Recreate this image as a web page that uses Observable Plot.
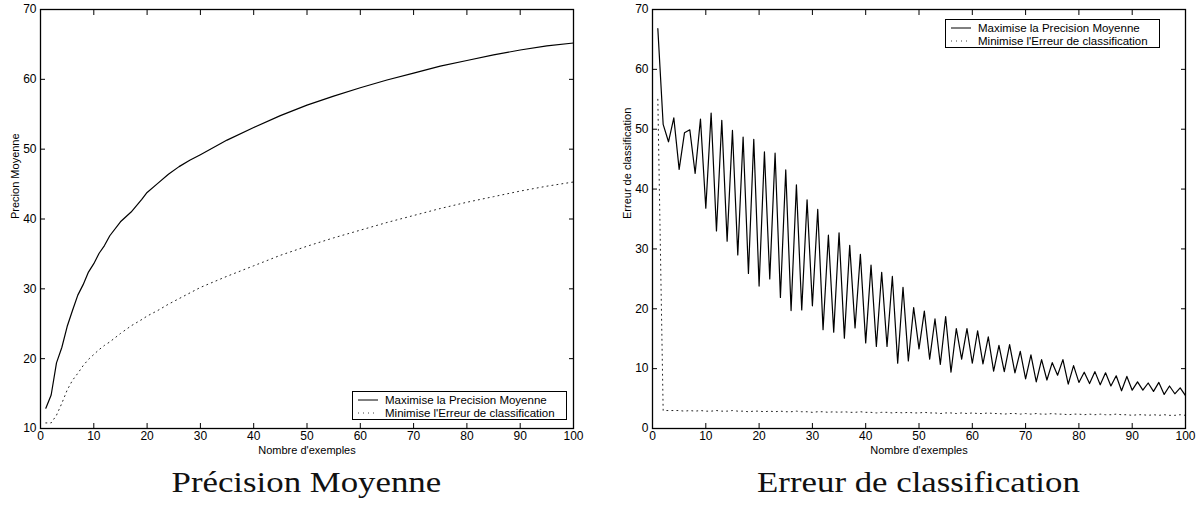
<!DOCTYPE html>
<html>
<head>
<meta charset="utf-8">
<script src="https://cdn.jsdelivr.net/npm/d3@7"></script>
<script src="https://cdn.jsdelivr.net/npm/@observablehq/plot@0.6"></script>
<style>
  html, body { margin: 0; padding: 0; background: #fff; }
  body { width: 1200px; height: 506px; overflow: hidden; font-family: "Liberation Sans", Arial, sans-serif; }
  #row { display: flex; width: 1200px; }
  .panel { position: relative; width: 600px; height: 506px; }
  .panel svg { display: block; }
  .caption { position: absolute; top: 466px; font-family: "Liberation Serif", serif; font-size: 29px; text-align: center; color: #111; }
  .caption span { display: inline-block; transform: scaleX(1.2); transform-origin: center; }
  .legend { position: absolute; border: 1px solid #000; background: #fff; font-size: 11.5px; color: #000; padding: 1px 0 1px 4px; box-sizing: border-box; }
  .legend .row { display: flex; align-items: center; height: 13px; white-space: nowrap; }
  .legend svg { margin-right: 6px; }
</style>
</head>
<body>
<div id="row">
  <div class="panel" id="p1"></div>
  <div class="panel" id="p2"></div>
</div>
<script>
// ---------- data ----------
const xTicks = [0, 10, 20, 30, 40, 50, 60, 70, 80, 90, 100];
const leftYTicks = [10, 20, 30, 40, 50, 60, 70];
const rightYTicks = [0, 10, 20, 30, 40, 50, 60, 70];

const seriesNames = ["Maximise la Precision Moyenne", "Minimise l'Erreur de classification"];
const xLabel = "Nombre d'exemples";
const leftYLabel = "Precion Moyenne";
const rightYLabel = "Erreur de classification";
const captions = ["Précision Moyenne", "Erreur de classification"];

// Left chart: Précision Moyenne
const leftX = [1, 2, 3, 4, 5, 6, 7, 8, 9, 10, 11, 12, 13, 15, 17, 19, 20, 22, 24, 26, 28, 30,
               35, 40, 45, 50, 55, 60, 65, 70, 75, 80, 85, 90, 95, 100];
const leftMaxPrecision = [12.9, 14.8, 19.4, 21.6, 24.6, 26.9, 29.1, 30.6, 32.4, 33.6, 35.1, 36.2, 37.6, 39.6, 41.0, 42.8, 43.8, 45.1, 46.4, 47.5, 48.4, 49.2,
                          51.3, 53.1, 54.8, 56.3, 57.6, 58.8, 59.9, 60.9, 61.9, 62.7, 63.5, 64.2, 64.8, 65.2];
const leftMinError = [10.8, 10.8, 11.9, 13.6, 15.5, 16.9, 17.9, 19.0, 19.9, 20.6, 21.3, 21.9, 22.4, 23.6, 24.7, 25.6, 26.1, 26.9, 27.8, 28.6, 29.4, 30.2,
                      31.8, 33.3, 34.8, 36.1, 37.3, 38.4, 39.5, 40.5, 41.5, 42.4, 43.2, 44.0, 44.7, 45.3];

// Right chart: Erreur de classification (x = 1..100)
const rightX = d3.range(1, 101);
const rightMaxPrecision = [
  66.8, 50.8, 47.9, 51.9, 43.3, 49.4, 49.9, 42.6, 51.7, 36.8,
  52.7, 33.0, 51.5, 31.3, 49.8, 29.0, 48.7, 25.9, 48.3, 23.8,
  46.2, 25.0, 46.0, 21.9, 43.2, 19.7, 40.7, 19.8, 38.2, 20.5,
  36.6, 16.5, 32.3, 16.1, 32.7, 15.1, 30.6, 16.8, 29.1, 14.3,
  27.3, 13.7, 26.1, 13.7, 25.4, 10.9, 23.6, 11.3, 20.2, 13.3,
  19.6, 11.6, 18.3, 10.7, 18.7, 9.4, 16.7, 11.6, 16.7, 10.9,
  16.3, 10.8, 15.3, 9.6, 13.9, 9.5, 14.0, 9.3, 12.9, 8.3,
  12.3, 7.8, 11.5, 8.1, 11.0, 8.9, 11.5, 7.4, 10.5, 7.7,
  9.4, 7.5, 9.5, 7.3, 9.3, 7.1, 8.8, 6.3, 8.7, 6.4,
  7.8, 6.4, 7.6, 6.2, 7.7, 5.7, 7.1, 5.8, 6.8, 5.5
];
const rightMinError = [
  55.0, 3.0, 3.0, 3.0, 3.0, 2.9, 3.0, 2.9, 3.0, 2.9,
  2.9, 3.0, 2.9, 2.9, 3.0, 2.9, 2.9, 2.8, 2.9, 2.9,
  2.8, 2.9, 2.8, 2.9, 2.8, 2.8, 2.9, 2.8, 2.8, 2.7,
  2.8, 2.8, 2.7, 2.8, 2.7, 2.8, 2.7, 2.7, 2.8, 2.7,
  2.7, 2.6, 2.7, 2.7, 2.6, 2.7, 2.6, 2.7, 2.6, 2.6,
  2.7, 2.6, 2.6, 2.5, 2.6, 2.6, 2.5, 2.6, 2.5, 2.6,
  2.5, 2.5, 2.6, 2.5, 2.5, 2.4, 2.5, 2.5, 2.4, 2.5,
  2.4, 2.5, 2.4, 2.4, 2.5, 2.4, 2.4, 2.3, 2.4, 2.4,
  2.3, 2.4, 2.3, 2.4, 2.3, 2.3, 2.4, 2.3, 2.3, 2.2,
  2.3, 2.3, 2.2, 2.3, 2.2, 2.3, 2.2, 2.2, 2.3, 2.2
];

// ---------- drawing ----------
const toRows = (xs, ys) => xs.map((x, i) => ({x, y: ys[i]}));

function makeChart({xs, solid, dotted, yDomain, yTicks, yLabel, marginLeft, marginRight}) {
  const fmt = () => "";
  return Plot.plot({
    width: 600,
    height: 460,
    marginLeft, marginRight, marginTop: 9, marginBottom: 32,
    style: {fontFamily: '"Liberation Sans", Arial, sans-serif', fontSize: "12px", color: "#000", background: "#fff", overflow: "visible"},
    x: {domain: [0, 100]},
    y: {domain: yDomain},
    marks: [
      Plot.line(toRows(xs, dotted), {x: "x", y: "y", stroke: "#222", strokeWidth: 1, strokeDasharray: "1 4"}),
      Plot.line(toRows(xs, solid), {x: "x", y: "y", stroke: "#000", strokeWidth: 1.2}),
      Plot.frame({stroke: "#000", strokeWidth: 1.3}),
      Plot.axisX(xTicks, {anchor: "bottom", tickSize: 0, tickPadding: 3, label: null}),
      Plot.axisX(xTicks, {anchor: "bottom", tickSize: -5, tickFormat: fmt, label: null}),
      Plot.axisX(xTicks, {anchor: "top", tickSize: -5, tickFormat: fmt, label: null}),
      Plot.axisY(yTicks, {anchor: "left", tickSize: 0, tickPadding: 4, label: null}),
      Plot.axisY(yTicks, {anchor: "left", tickSize: -5, tickFormat: fmt, label: null}),
      Plot.axisY(yTicks, {anchor: "right", tickSize: -5, tickFormat: fmt, label: null}),
      Plot.text([xLabel], {frameAnchor: "bottom", dy: 25, fontSize: 11, fill: "#000"}),
      Plot.text([yLabel], {frameAnchor: "left", dx: -25, rotate: -90, fontSize: 11, fill: "#000"})
    ]
  });
}

function legend(left, top) {
  const el = document.createElement("div");
  el.className = "legend";
  el.style.left = left + "px";
  el.style.top = top + "px";
  el.style.width = "215px";
  el.style.height = "29px";
  const dashes = ["", "1 4"];
  seriesNames.forEach((name, i) => {
    const row = document.createElement("div");
    row.className = "row";
    row.innerHTML = `<svg width="22" height="6"><line x1="1" y1="3" x2="21" y2="3" stroke="${i ? "#444" : "#000"}" stroke-width="1" ${dashes[i] ? `stroke-dasharray="${dashes[i]}"` : ""}/></svg><span>${name}</span>`;
    el.appendChild(row);
  });
  return el;
}

function caption(text, marginLeft, marginRight) {
  const el = document.createElement("div");
  el.className = "caption";
  el.style.left = marginLeft + "px";
  el.style.width = (600 - marginLeft - marginRight) + "px";
  const span = document.createElement("span");
  span.textContent = text;
  el.appendChild(span);
  return el;
}

const p1 = document.getElementById("p1");
const p2 = document.getElementById("p2");

p1.appendChild(makeChart({xs: leftX, solid: leftMaxPrecision, dotted: leftMinError,
  yDomain: [10, 70], yTicks: leftYTicks, yLabel: leftYLabel, marginLeft: 40, marginRight: 27}));
p1.appendChild(legend(352, 391));
p1.appendChild(caption(captions[0], 40, 27));

p2.appendChild(makeChart({xs: rightX, solid: rightMaxPrecision, dotted: rightMinError,
  yDomain: [0, 70], yTicks: rightYTicks, yLabel: rightYLabel, marginLeft: 52, marginRight: 15}));
p2.appendChild(legend(345, 19));
p2.appendChild(caption(captions[1], 52, 15));
</script>
</body>
</html>
